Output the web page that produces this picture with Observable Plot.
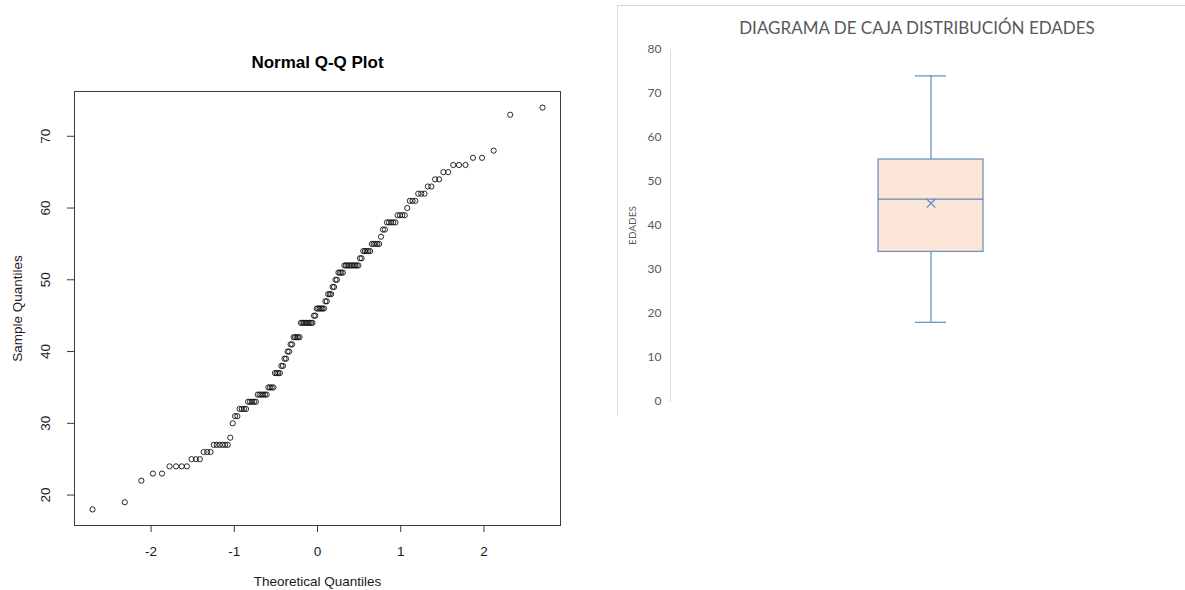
<!DOCTYPE html>
<html><head><meta charset="utf-8">
<script src="https://cdn.jsdelivr.net/npm/d3@7"></script>
<script src="https://cdn.jsdelivr.net/npm/@observablehq/plot@0.6"></script>
<style>
html,body{margin:0;padding:0;background:#fff;overflow:hidden;width:1185px;height:590px;}
#left{position:absolute;left:0;top:0;width:617px;}
#panel{position:absolute;left:617px;top:5px;width:700px;height:410px;border-top:1px solid #d9d9d9;border-left:1px solid #d9d9d9;}
#right{position:absolute;left:617px;top:0;width:628px;}
svg{max-width:none !important;}
</style></head><body>
<div id="left"></div><div id="panel"></div><div id="right"></div>
<script>
// Sorted sample ages (distinct values) and how many times each appears (n = 146)
const ageValues = [18,19,22,23,24,25,26,27,28,30,31,32,33,34,35,37,38,39,40,41,42,44,45,46,47,48,49,50,51,52,53,54,55,56,57,58,59,60,61,62,63,64,65,66,67,68,73,74];
const ageCounts = [1,1,1,2,4,3,3,6,1,1,2,4,5,6,4,4,2,2,2,2,5,9,2,6,2,3,2,2,4,10,2,5,5,1,2,5,4,1,3,3,2,2,2,3,2,1,1,1];
const qqXTicks = [-2,-1,0,1,2];
const qqYTicks = [20,30,40,50,60,70];
const boxYTicks = [0,10,20,30,40,50,60,70,80];
const qqTitle = "Normal Q-Q Plot";
const qqXLabel = "Theoretical Quantiles";
const qqYLabel = "Sample Quantiles";
const boxTitle = "DIAGRAMA DE CAJA DISTRIBUCIÓN EDADES";
const boxYLabel = "EDADES";

// inverse standard normal CDF (Acklam)
function qnorm(p){
  const a=[-3.969683028665376e+01,2.209460984245205e+02,-2.759285104469687e+02,1.383577518672690e+02,-3.066479806614716e+01,2.506628277459239e+00];
  const b=[-5.447609879822406e+01,1.615858368580409e+02,-1.556989798598866e+02,6.680131188771972e+01,-1.328068155288572e+01];
  const c=[-7.784894002430293e-03,-3.223964580411365e-01,-2.400758277161838e+00,-2.549671635611760e+00,4.374664141464968e+00,2.938163982698783e+00];
  const d=[7.784695709041462e-03,3.224671290700398e-01,2.445134137142996e+00,3.754408661907416e+00];
  const pl=0.02425, ph=1-pl; let q,r;
  if(p<pl){q=Math.sqrt(-2*Math.log(p));return (((((c[0]*q+c[1])*q+c[2])*q+c[3])*q+c[4])*q+c[5])/((((d[0]*q+d[1])*q+d[2])*q+d[3])*q+1);}
  if(p<=ph){q=p-0.5;r=q*q;return (((((a[0]*r+a[1])*r+a[2])*r+a[3])*r+a[4])*r+a[5])*q/(((((b[0]*r+b[1])*r+b[2])*r+b[3])*r+b[4])*r+1);}
  q=Math.sqrt(-2*Math.log(1-p));return -(((((c[0]*q+c[1])*q+c[2])*q+c[3])*q+c[4])*q+c[5])/((((d[0]*q+d[1])*q+d[2])*q+d[3])*q+1);
}

const ages = ageValues.flatMap((v,i)=>Array(ageCounts[i]).fill(v));
const n = ages.length;
const qq = ages.map((y,i)=>({theoretical: qnorm((i+0.5)/n), sample: y}));
function pad(ext){const w=ext[1]-ext[0];return [ext[0]-0.04*w, ext[1]+0.04*w];}
const xDom = pad(d3.extent(qq,d=>d.theoretical));
const yDom = pad(d3.extent(qq,d=>d.sample));

const ink = "#3a3a3a";
const fs = 13.5;
const left = Plot.plot({
  width: 617, height: 590,
  marginLeft: 74, marginRight: 57, marginTop: 91, marginBottom: 65,
  x: {domain: xDom}, y: {domain: yDom},
  style: {fontFamily: "'Liberation Sans', Arial, sans-serif", fontSize: "13px", color: "#1a1a1a", background: "transparent"},
  marks: [
    Plot.frame({stroke: ink, strokeWidth: 1}),
    Plot.dot(qq, {x: "theoretical", y: "sample", r: 2.6, stroke: "#111", strokeWidth: 0.9}),
    Plot.axisX({ticks: qqXTicks, tickSize: 7, tickFormat: () => "", stroke: ink, label: null}),
    Plot.axisY({ticks: qqYTicks, tickSize: 7, tickFormat: () => "", stroke: ink, label: null}),
    Plot.text(qqXTicks, {x: d=>d, text: d=>String(d), frameAnchor: "bottom", lineAnchor: "middle", textAnchor: "middle", dy: 26, fontSize: fs}),
    Plot.text(qqYTicks, {y: d=>d, text: d=>String(d), frameAnchor: "left", lineAnchor: "middle", textAnchor: "middle", rotate: -90, dx: -29, fontSize: fs}),
    Plot.text([qqXLabel], {text: d=>d, frameAnchor: "bottom", lineAnchor: "middle", textAnchor: "middle", dy: 56, fontSize: fs}),
    Plot.text([qqYLabel], {text: d=>d, frameAnchor: "left", lineAnchor: "middle", textAnchor: "middle", rotate: -90, dx: -57, fontSize: fs}),
    Plot.text([qqTitle], {text: d=>d, frameAnchor: "top", lineAnchor: "middle", textAnchor: "middle", dy: -29, fontSize: 17, fontWeight: "bold", fill: "#000"})
  ]
});
document.getElementById("left").appendChild(left);

const blue = "#5a8ac6";
const boxData = [{cat: boxYLabel, min: d3.min(ages), q1: d3.quantile(ages,0.25), med: d3.median(ages), q3: d3.quantile(ages,0.75), max: d3.max(ages), mean: d3.mean(ages)}];
const right = Plot.plot({
  width: 628, height: 420,
  marginLeft: 53, marginRight: 54, marginTop: 49, marginBottom: 19,
  x: {type: "band", domain: [boxYLabel], padding: 0.663, axis: null},
  y: {domain: [0,80]},
  style: {fontFamily: "Lato, Calibri, sans-serif", color: "#595959", background: "transparent"},
  marks: [
    Plot.frame({anchor: "left", stroke: "#d9d9d9"}),
    Plot.axisY({ticks: boxYTicks, tickSize: 0, tickPadding: 9, fontSize: 12, label: null}),
    Plot.ruleX(boxData, {x: "cat", y1: "min", y2: "q1", stroke: blue, strokeWidth: 1.2}),
    Plot.ruleX(boxData, {x: "cat", y1: "q3", y2: "max", stroke: blue, strokeWidth: 1.2}),
    Plot.tickY(boxData, {x: "cat", y: "min", stroke: blue, strokeWidth: 1.2, insetLeft: 37, insetRight: 37}),
    Plot.tickY(boxData, {x: "cat", y: "max", stroke: blue, strokeWidth: 1.2, insetLeft: 37, insetRight: 37}),
    Plot.barY(boxData, {x: "cat", y1: "q1", y2: "q3", fill: "#fbe5d6", stroke: "#6f93c2", strokeWidth: 1.3}),
    Plot.tickY(boxData, {x: "cat", y: "med", stroke: blue, strokeWidth: 1.2}),
    Plot.dot(boxData, {x: "cat", y: "mean", symbol: "times", r: 4, stroke: blue, strokeWidth: 1.1}),
    Plot.text([boxYLabel], {text: d=>d, frameAnchor: "left", lineAnchor: "middle", textAnchor: "middle", rotate: -90, dx: -38, fontSize: 10}),
    Plot.text([boxTitle], {text: d=>d, frameAnchor: "top", lineAnchor: "middle", textAnchor: "middle", dy: -21, dx: -14, fontSize: 17})
  ]
});
document.getElementById("right").appendChild(right);
</script>
</body></html>
